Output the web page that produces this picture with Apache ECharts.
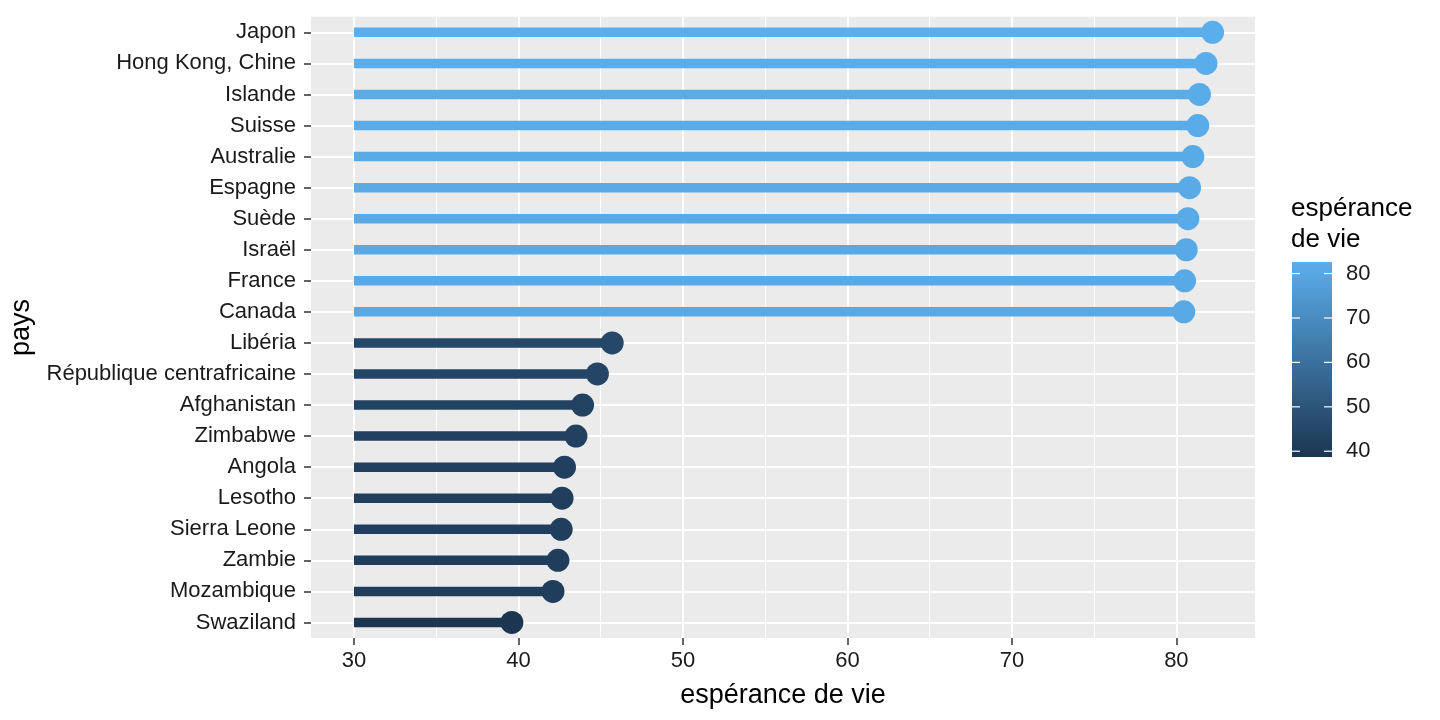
<!DOCTYPE html>
<html>
<head>
<meta charset="utf-8">
<script src="https://cdn.jsdelivr.net/npm/echarts@6/dist/echarts.min.js"></script>
<style>
html, body { margin: 0; padding: 0; background: #fff; }
#chart { width: 1440px; height: 720px; }
</style>
</head>
<body>
<div id="chart"></div>
<script>
// pays, du haut vers le bas
var pays = ["Japon", "Hong Kong, Chine", "Islande", "Suisse", "Australie",
    "Espagne", "Suède", "Israël", "France", "Canada",
    "Libéria", "République centrafricaine", "Afghanistan", "Zimbabwe", "Angola",
    "Lesotho", "Sierra Leone", "Zambie", "Mozambique", "Swaziland"];
var esperance = [82.2, 81.8, 81.4, 81.3, 81.0,
    80.8, 80.7, 80.6, 80.5, 80.45,
    45.7, 44.8, 43.9, 43.5, 42.8,
    42.65, 42.6, 42.4, 42.1, 39.6];
var debut = 30;
var xTicks = [30, 40, 50, 60, 70, 80];
var xMinorTicks = [35, 45, 55, 65, 75];
var legendTicks = [40, 50, 60, 70, 80];

var fontFam = "Liberation Sans, Arial, sans-serif";
var colLow = "#1C3652", colHigh = "#5BAEEC";
var vMin = Math.min.apply(null, esperance), vMax = Math.max.apply(null, esperance);

var chart = echarts.init(document.getElementById("chart"));

var points = esperance.map(function (v, i) { return [v, i]; });

// barre de couleur de la légende
var bar = { x: 1292, y: 262, w: 40, h: 195, lo: 38.7, hi: 82.6 };
var legendEls = [{
    type: "rect",
    shape: { x: bar.x, y: bar.y, width: bar.w, height: bar.h },
    style: {
        fill: new echarts.graphic.LinearGradient(0, 0, 0, 1, [
            { offset: 0, color: colHigh },
            { offset: 1, color: colLow }
        ])
    }
}, {
    type: "text",
    left: 1291, top: 193,
    style: { text: "espérance\nde vie", font: "26px " + fontFam, fill: "#000", lineHeight: 31 }
}];
legendTicks.forEach(function (t) {
    var y = bar.y + (bar.hi - t) / (bar.hi - bar.lo) * bar.h;
    legendEls.push({ type: "line", shape: { x1: bar.x, y1: y, x2: bar.x + 8, y2: y }, style: { stroke: "#fff", lineWidth: 1.2 } });
    legendEls.push({ type: "line", shape: { x1: bar.x + bar.w - 8, y1: y, x2: bar.x + bar.w, y2: y }, style: { stroke: "#fff", lineWidth: 1.2 } });
    legendEls.push({
        type: "text", x: 1346, y: y,
        style: { text: String(t), font: "22px " + fontFam, fill: "#1a1a1a", verticalAlign: "middle" }
    });
});

var option = {
    backgroundColor: "#fff",
    animation: false,
    grid: {
        left: 311, right: 185, top: 16.8, bottom: 82,
        show: true, backgroundColor: "#EBEBEB", borderWidth: 0
    },
    xAxis: [{
        type: "value",
        min: 27.39,
        max: 84.78,
        name: "espérance de vie",
        nameLocation: "middle",
        nameGap: 44,
        nameTextStyle: { fontSize: 27, fontFamily: fontFam, color: "#000" },
        axisLine: { show: false },
        axisTick: { show: true, length: 7, customValues: xTicks, lineStyle: { color: "#333", width: 1.5 } },
        axisLabel: { customValues: xTicks, margin: 12, fontSize: 22, fontFamily: fontFam, color: "#1a1a1a" },
        splitLine: { show: true, lineStyle: { color: "#fff", width: 2 } }
    }, {
        type: "value",
        position: "bottom",
        min: 27.39,
        max: 84.78,
        axisLine: { show: false },
        axisTick: { show: false, customValues: xMinorTicks },
        axisLabel: { show: false, customValues: xMinorTicks },
        splitLine: { show: true, lineStyle: { color: "#fff", width: 1 } }
    }],
    yAxis: {
        type: "category",
        data: pays,
        inverse: true,
        name: "pays",
        nameLocation: "middle",
        nameGap: 276,
        nameRotate: 90,
        nameTextStyle: { fontSize: 27, fontFamily: fontFam, color: "#000" },
        axisLine: { show: false },
        axisTick: { show: true, alignWithLabel: true, length: 7, lineStyle: { color: "#333", width: 1.5 } },
        axisLabel: { margin: 15, fontSize: 22, fontFamily: fontFam, color: "#1a1a1a" },
        splitLine: { show: true, alignWithLabel: true, lineStyle: { color: "#fff", width: 2 } }
    },
    visualMap: {
        show: false,
        type: "continuous",
        dimension: 0,
        seriesIndex: 0,
        min: vMin,
        max: vMax,
        inRange: { color: [colLow, colHigh] }
    },
    series: [{
        type: "custom",
        data: points,
        encode: { x: 0, y: 1 },
        renderItem: function (params, api) {
            var start = api.coord([debut, api.value(1)]);
            var end = api.coord([api.value(0), api.value(1)]);
            var c = api.visual("color");
            return {
                type: "group",
                children: [{
                    type: "line",
                    shape: { x1: start[0], y1: start[1], x2: end[0], y2: end[1] },
                    style: { stroke: c, lineWidth: 9.5, lineCap: "butt" }
                }, {
                    type: "circle",
                    shape: { cx: end[0], cy: end[1], r: 11.5 },
                    style: { fill: c }
                }]
            };
        }
    }],
    graphic: legendEls
};

chart.setOption(option);
</script>
</body>
</html>
